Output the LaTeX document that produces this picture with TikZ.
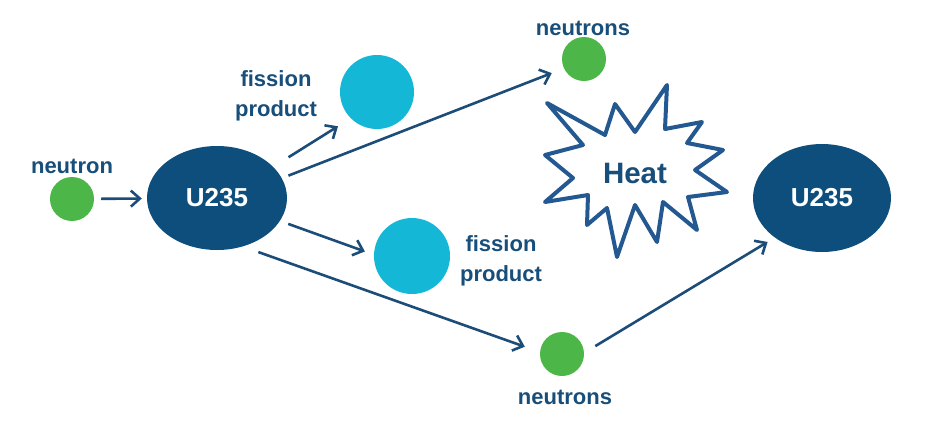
\documentclass[tikz,border=0pt]{standalone}
\usepackage{fontspec}
\setmainfont{Liberation Sans}
\usetikzlibrary{arrows.meta,shapes.geometric}
\definecolor{ublue}{RGB}{13,78,124}
\definecolor{ngreen}{RGB}{76,183,72}
\definecolor{fcyan}{RGB}{20,184,214}
\definecolor{tblue}{RGB}{23,78,122}
\definecolor{ablue}{RGB}{28,76,120}
\definecolor{sblue}{RGB}{35,88,145}
\tikzset{
  neutronball/.style={circle, fill=ngreen, minimum size=44pt, inner sep=0pt},
  fissionball/.style={circle, fill=fcyan, inner sep=0pt},
  uranium/.style={ellipse, fill=ublue, inner sep=0pt, text=white, font=\fontsize{26}{30}\selectfont\bfseries},
  lbl/.style={text=tblue, font=\fontsize{22}{30.5}\selectfont\bfseries, align=center, inner sep=0pt},
  arr/.style={draw=ablue, line width=2.6pt, -{Straight Barb[length=9pt,width=16pt]}},
  burst/.style={draw=sblue, line width=4pt, line join=round}
}
\begin{document}
\begin{tikzpicture}[x=1pt,y=-1pt]
\useasboundingbox (0,0) rectangle (930,424);
% nodes
\node[neutronball] (n0) at (72,199) {};
\node[lbl] (l0) at (72,166) {neutron};
\node[uranium, minimum width=140pt, minimum height=104pt] (u1) at (217,198) {U235};
\node[fissionball, minimum size=74pt] (fp1) at (377,92) {};
\node[lbl] (l1) at (276,96) {fission\\product};
\node[neutronball] (n1) at (584,59) {};
\node[lbl] (l2) at (583,28) {neutrons};
\node[fissionball, minimum size=76pt] (fp2) at (412,256) {};
\node[lbl] (l3) at (501,261) {fission\\product};
\node[neutronball] (n2) at (562,354) {};
\node[lbl] (l4) at (565,397) {neutrons};
\node[uranium, minimum width=138pt, minimum height=108pt] (u2) at (822,198) {U235};
% heat burst
\draw[burst] (547,103) -- (605,135) -- (615,104) -- (635,132) -- (667,85) -- (665,129)
  -- (702,122) -- (687,143) -- (723,150) -- (695,170) -- (727,192) -- (688,197)
  -- (697,230) -- (663,202) -- (657,242) -- (635,205) -- (617,257) -- (607,208)
  -- (587,225) -- (588,195) -- (545,202) -- (573,178) -- (545,155) -- (583,145) -- cycle;
\node[text=tblue, font=\fontsize{29.5}{32}\selectfont\bfseries, inner sep=0pt] (heat) at (635,173) {Heat};
% connectors
\draw[arr, shorten <=7pt, shorten >=5pt] (n0) -- (u1);
\draw[arr, shorten <=18pt, shorten >=15pt] (u1.29.5) -- (fp1.225);
\draw[arr, shorten <=7pt, shorten >=13pt] (u1.17.6) -- (n1.205);
\draw[arr, shorten <=8.7pt, shorten >=9.5pt] (u1.-20.1) -- (fp2.178.9);
\draw[arr, shorten <=16.5pt, shorten >=16pt] (u1.-62.3) -- (n2.175.8);
\draw[arr, shorten <=13pt, shorten >=8.4pt] (n2.3.5) -- (u2.220.3);
\end{tikzpicture}
\end{document}
